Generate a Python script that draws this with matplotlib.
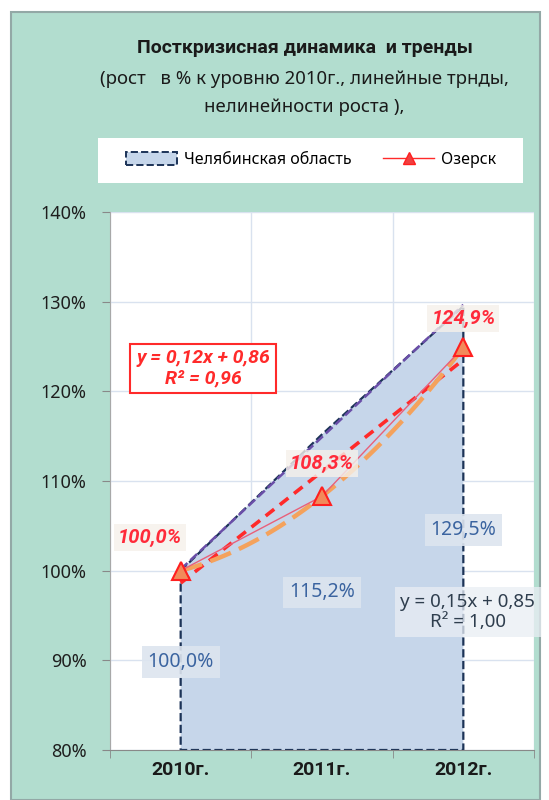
import matplotlib.pyplot as plt
import numpy as np
from matplotlib.patches import Rectangle, Patch
from matplotlib.lines import Line2D
from matplotlib.ticker import FuncFormatter

plt.rcParams['font.family'] = ['Noto Sans', 'DejaVu Sans']
BOLD = ['Roboto', 'DejaVu Sans']

# данные
years = ['2010г.', '2011г.', '2012г.']
x = np.array([1, 2, 3])
chel = np.array([1.000, 1.152, 1.295])
ozersk = np.array([1.000, 1.083, 1.249])
chel_labels = ['100,0%', '115,2%', '129,5%']
oz_labels = ['100,0%', '108,3%', '124,9%']
chel_eq = 'y = 0,15x + 0,85\nR² = 1,00'
oz_eq = 'y = 0,12x + 0,86\nR² = 0,96'

fig = plt.figure(figsize=(5.49, 8), dpi=100)

# зелёная подложка
fig.patches.append(Rectangle((11 / 549, 0), 529 / 549, 1 - 12 / 800,
                             transform=fig.transFigure, facecolor='#b2ddcf',
                             edgecolor='#93a8a6', lw=1.5, zorder=-2))

fig.text(0.555, 1 - 48 / 800, 'Посткризисная динамика  и тренды', family=BOLD,
         ha='center', va='center', fontsize=14, fontweight='bold', color='#1a1a1a')
fig.text(0.555, 1 - 79 / 800, '(рост   в % к уровню 2010г., линейные трнды,',
         ha='center', va='center', fontsize=13.4, color='#1a1a1a')
fig.text(0.555, 1 - 107 / 800, 'нелинейности роста ),',
         ha='center', va='center', fontsize=13.4, color='#1a1a1a')

# белая плашка легенды
fig.patches.append(Rectangle((98 / 549, 1 - 183 / 800), 425 / 549, 45 / 800,
                             transform=fig.transFigure, facecolor='white',
                             edgecolor='none', zorder=-1))

ax = fig.add_axes([110 / 549, 50 / 800, 424 / 549, 538 / 800])
ax.set_zorder(2)
ax.set_facecolor('white')
ax.set_xlim(0.5, 3.5)
ax.set_ylim(0.8, 1.4)

# Челябинская область - область с пунктирной границей
ax.fill(np.concatenate([x, [3, 1]]), np.concatenate([chel, [0.8, 0.8]]),
        facecolor='#c6d6ea', edgecolor='#1c3357', ls='--', lw=1.6, zorder=2)
k, b = np.polyfit(x, chel, 1)
ax.plot(x, k * x + b, color='#6a4ea8', ls='--', lw=1.8, zorder=3)

# Озерск
k2, b2 = np.polyfit(x, ozersk, 1)
ax.plot(x, k2 * x + b2, color='#ff2a2a', ls=(0, (3, 2)), lw=2.6, zorder=4)
xs = np.linspace(1, 3, 60)
ax.plot(xs, np.polyval(np.polyfit(x, ozersk, 2), xs), color='#f4a25c',
        ls=(0, (5, 2)), lw=3.2, zorder=4)
ax.plot(x, ozersk, color='#e8607a', lw=1, marker='^', ms=13,
        mfc='#f28a5a', mec='#ff1f1f', mew=1.5, zorder=5)

# подписи
red_off = [(-31, 33), (0, 33), (0, 29)]
for xi, yi, t, off in zip(x, ozersk, oz_labels, red_off):
    ax.annotate(t, (xi, yi), xytext=off, textcoords='offset pixels', family=BOLD,
                ha='center', va='center', fontsize=14.5, fontweight='bold',
                style='italic', color='#ff2a3a', zorder=6,
                bbox=dict(boxstyle='square,pad=0.2', fc='#f6f1ea', ec='none', alpha=0.8))
blue_off = [(0, -91), (0, -158), (0, -224)]
for xi, yi, t, off in zip(x, chel, chel_labels, blue_off):
    ax.annotate(t, (xi, yi), xytext=off, textcoords='offset pixels',
                ha='center', va='center', fontsize=14, color='#3b64a0', zorder=6,
                bbox=dict(boxstyle='square,pad=0.3', fc='#dde5ef', ec='none', alpha=0.9))

ax.text(1.158, 1.2255, oz_eq, ha='center', va='center', fontsize=14, family=BOLD,
        fontweight='bold', style='italic', color='#ff2a2a', linespacing=1.15, zorder=6,
        bbox=dict(boxstyle='square,pad=0.3', fc='white', ec='#ff2a2a', lw=1.5))
ax.text(3.03, 0.954, chel_eq, ha='center', va='center', fontsize=13.5,
        color='#2f3e4e', linespacing=1.2, zorder=6,
        bbox=dict(boxstyle='square,pad=0.3', fc='#e9eef4', ec='none', alpha=0.75))

# оси
ax.set_yticks(np.arange(0.8, 1.41, 0.1))
ax.yaxis.set_major_formatter(FuncFormatter(lambda v, p: f'{v * 100:.0f}%'))
ax.set_xticks(x)
ax.set_xticklabels(years, fontweight='bold', family=BOLD)
ax.set_xticks([0.5, 1.5, 2.5, 3.5], minor=True)
ax.tick_params(axis='x', which='major', length=0, pad=8, labelsize=14, colors='#1a1a1a')
ax.tick_params(axis='x', which='minor', length=6, color='#888888')
ax.tick_params(axis='y', length=6, pad=11, labelsize=13, colors='#1e1e1e')
ax.tick_params(axis='y', color='#888888')
ax.grid(True, axis='y', color='#d9e2ef', lw=1, zorder=1)
ax.grid(True, axis='x', which='minor', color='#d9e2ef', lw=1, zorder=1)
ax.set_axisbelow(True)
for s in ['top', 'right']:
    ax.spines[s].set_visible(False)
ax.spines['left'].set_color('#a8a8a8')
ax.spines['bottom'].set_color('#888888')

handles = [Patch(facecolor='#c6d6ea', edgecolor='#1c3357', ls='--', lw=1.4),
           Line2D([], [], color='#ff2a2a', lw=1, marker='^', ms=8,
                  mfc='#f04040', mec='#ff1f1f')]
fig.legend(handles, ['Челябинская область', 'Озерск'], loc='center',
           bbox_to_anchor=(311 / 549, 1 - 160 / 800), ncol=2, frameon=False,
           fontsize=11.5, handlelength=3.2, handleheight=0.8, handletextpad=0.4,
           columnspacing=2.0)

fig.savefig('out.png', dpi=100)
